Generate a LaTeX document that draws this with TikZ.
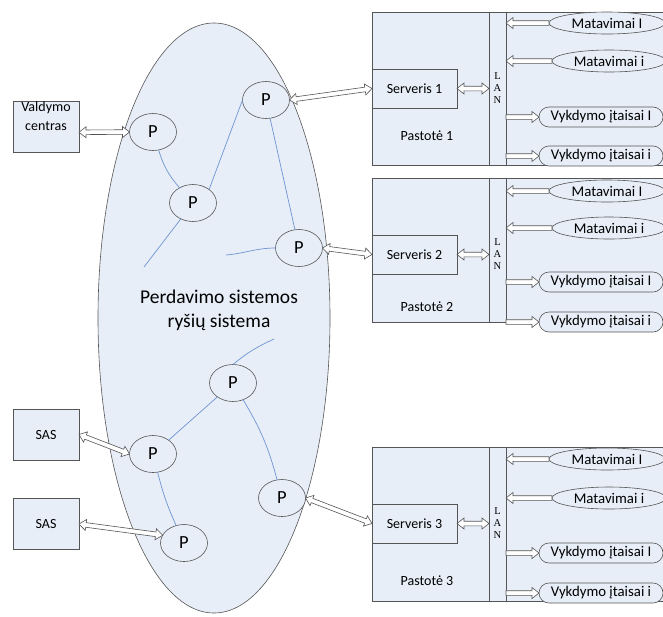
\documentclass[tikz,border=0pt]{standalone}
\usepackage{fontspec}
\setmainfont{Carlito}
\newfontfamily\lanfont{Liberation Serif}
\usetikzlibrary{shapes.geometric,arrows.meta,calc}

\definecolor{paleblue}{RGB}{231,238,248}
\definecolor{edge}{RGB}{85,85,85}
\definecolor{wire}{RGB}{110,148,210}

% direction and length between two points, kept in \arrang and \arrlen
\newcommand\arrowgeom[2]{%
  \path let \p1=(#1), \p2=(#2) in
    \pgfextra{\pgfmathparse{atan2(\y2-\y1,\x2-\x1)}\xdef\arrang{\pgfmathresult}%
              \pgfmathparse{veclen(\x2-\x1,\y2-\y1)}\xdef\arrlen{\pgfmathresult}};}
% hollow block arrow, head at the second point
\newcommand\oneway[2]{\arrowgeom{#1}{#2}%
  \begin{scope}[shift={(#1)}, rotate=\arrang]
    \draw[pipe] (0,2.3) -- (\arrlen-7,2.3) -- (\arrlen-7,5.5) -- (\arrlen,0)
      -- (\arrlen-7,-5.5) -- (\arrlen-7,-2.3) -- (0,-2.3) -- cycle;
  \end{scope}}
% hollow block arrow with heads at both ends
\newcommand\twoway[2]{\arrowgeom{#1}{#2}%
  \begin{scope}[shift={(#1)}, rotate=\arrang]
    \draw[pipe] (7,2.3) -- (\arrlen-7,2.3) -- (\arrlen-7,5.5) -- (\arrlen,0)
      -- (\arrlen-7,-5.5) -- (\arrlen-7,-2.3) -- (7,-2.3) -- (7,-5.5) -- (0,0)
      -- (7,5.5) -- cycle;
  \end{scope}}

\begin{document}
\begin{tikzpicture}[x=1pt,y=-1pt,
  every node/.style={inner sep=0pt, outer sep=0pt, font=\fontsize{14}{16}\selectfont},
  boxed/.style={draw=edge, fill=paleblue, line width=0.6pt},
  router/.style={boxed, ellipse, minimum width=47pt, minimum height=37pt,
    font=\fontsize{18.5}{20}\selectfont},
  sidebox/.style={boxed, minimum width=66pt, minimum height=51pt},
  station/.style={boxed, minimum width=300pt, anchor=north west},
  lanstrip/.style={boxed, minimum width=17pt, anchor=north west},
  srvbox/.style={boxed, minimum width=85pt, minimum height=39pt, anchor=north west},
  meas/.style={boxed, ellipse, minimum height=22pt, font=\fontsize{14.8}{16}\selectfont},
  actor/.style={boxed, rounded corners=10pt, minimum width=124pt, minimum height=20pt,
    font=\fontsize{14.8}{16}\selectfont},
  wire/.style={draw=wire, line width=0.7pt},
  pipe/.style={draw=edge, fill=white, line width=0.6pt, line join=miter}
]
\useasboundingbox (0,0) rectangle (663,616);
\clip (0,0) rectangle (663,616);

% transmission network cloud
\node[boxed, ellipse, minimum width=232pt, minimum height=590pt] (net) at (214,318) {};
\node[align=center, font=\fontsize{19.5}{24}\selectfont] (nettxt) at (219,310)
  {Perdavimo sistemos\\ryšių sistema};

% routers
\node[router] (pa) at (153,132) {P};
\node[router] (pb) at (193,203) {P};
\node[router] (pc) at (266,100) {P};
\node[router] (pd) at (299,248) {P};
\node[router] (pe) at (233,383) {P};
\node[router] (pf) at (153,454) {P};
\node[router] (pg) at (184,543) {P};
\node[router] (ph) at (282,498) {P};

% open link ends
\coordinate (wb) at (144,267);
\coordinate (wd) at (226,255);
\coordinate (we) at (274,339);

% links inside the network
\draw[wire] (pa) to[bend right=12] (pb);
\draw[wire] (pb) -- (wb);
\draw[wire] (pb.40) -- (pc.west);
\draw[wire] (pc) -- (pd);
\draw[wire] (pd.west) to[out=180,in=5] (wd);
\draw[wire] (pe.north) to[out=40,in=205] (we);
\draw[wire] (pe) -- (pf);
\draw[wire] (pe) to[bend left=8] (ph);
\draw[wire] (pf) to[bend right=5] (pg);

% control centre and SAS
\node[sidebox] (vc) at (46,126.5) {};
\node[align=center, anchor=north, font=\fontsize{14}{19}\selectfont] (vctxt) at ($(vc.north)+(0,1)$) {Valdymo\\centras};
\node[sidebox] (sas1) at (46,434.5) {SAS};
\node[sidebox] (sas2) at (46,524) {SAS};

\twoway{vc.-10}{pa.west}
\twoway{sas1.east}{pf.west}
\twoway{sas2.east}{pg.160}

% substations: index / top / bottom / label y / measurement y / actuator y
\foreach \i/\t/\b/\ly/\ma/\mb/\va/\vb in
  {1/12/165/136/23/61/117/156,
   2/178/322/307/191/228/282/322,
   3/447/601/581/459/498/553/593}{
  \pgfmathsetmacro\h{\b-\t}
  \node[station, minimum height=\h pt] (st\i) at (372,\t) {};
  \node[lanstrip, minimum height=\h pt] (lan\i) at (489,\t) {};
  \node[align=center, font=\lanfont\fontsize{10.5}{12}\selectfont] (lantxt\i) at (497.5,\t+76) {L\\A\\N};
  \node[srvbox] (srv\i) at (372,\t+57) {Serveris \i};
  \node (lbl\i) at (427,\ly) {Pastotė \i};
  \node[meas, minimum width=116pt] (ma\i) at (607,\ma) {Matavimai I};
  \node[meas, minimum width=114pt] (mb\i) at (609,\mb) {Matavimai i};
  \node[actor] (va\i) at (601,\va) {Vykdymo įtaisai I};
  \node[actor] (vb\i) at (601,\vb) {Vykdymo įtaisai i};
  \twoway{srv\i.east}{lan\i.west |- srv\i.east}
  \oneway{ma\i.west}{lan\i.east |- ma\i.west}
  \oneway{mb\i.west}{lan\i.east |- mb\i.west}
  \oneway{lan\i.east |- va\i.west}{va\i.west}
  \oneway{lan\i.east |- vb\i.west}{vb\i.west}
}

% network to substation servers
\twoway{pc.east}{srv1.west}
\twoway{pd.east}{srv2.west}
\twoway{ph.east}{srv3.west}
\end{tikzpicture}
\end{document}
